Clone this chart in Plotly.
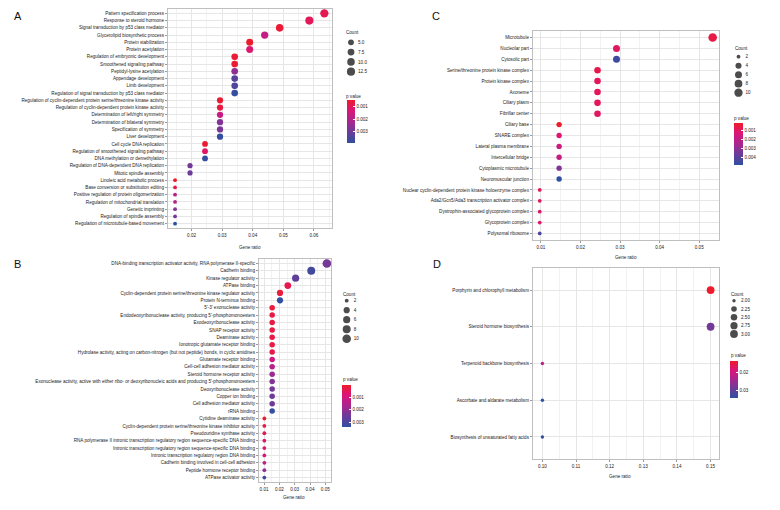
import math
import plotly.graph_objects as go

W, H = 780, 510
FONT = "Liberation Sans Narrow, Arial Narrow, Liberation Sans, Arial, sans-serif"
TXT = "#222222"
FS = 4.6

# ---------------- data ----------------
A_terms = [
    "Pattern specification process", "Response to steroid hormone",
    "Signal transduction by p53 class mediator", "Glycerolipid biosynthetic process",
    "Protein stabilization", "Protein acetylation", "Regulation of embryonic development",
    "Smoothened signaling pathway", "Peptidyl-lysine acetylation", "Appendage development",
    "Limb development", "Regulation of signal transduction by p53 class mediator",
    "Regulation of cyclin-dependent protein serine/threonine kinase activity",
    "Regulation of cyclin-dependent protein kinase activity",
    "Determination of left/right symmetry", "Determination of bilateral symmetry",
    "Specification of symmetry", "Liver development", "Cell cycle DNA replication",
    "Regulation of smoothened signaling pathway", "DNA methylation or demethylation",
    "Regulation of DNA-dependent DNA replication", "Mitotic spindle assembly",
    "Linoleic acid metabolic process", "Base conversion or substitution editing",
    "Positive regulation of protein oligomerization", "Regulation of mitochondrial translation",
    "Genetic imprinting", "Regulation of spindle assembly",
    "Regulation of microtubule-based movement",
]
A_count = [13, 12, 10, 9, 8, 8, 7, 7, 7, 7, 7, 7, 6, 6, 6, 6, 6, 6, 5, 5, 5, 4, 4, 3, 3, 3, 3, 3, 3, 3]
A_ratio = [0.0634, 0.0585, 0.0488, 0.0439, 0.0390, 0.0390, 0.0341, 0.0341, 0.0341, 0.0341,
           0.0341, 0.0341, 0.0293, 0.0293, 0.0293, 0.0293, 0.0293, 0.0293, 0.0244, 0.0244,
           0.0244, 0.0195, 0.0195, 0.0146, 0.0146, 0.0146, 0.0146, 0.0146, 0.0146, 0.0146]
A_p = [0.0009, 0.0010, 0.0006, 0.0017, 0.0005, 0.0012, 0.0006, 0.0006, 0.0025, 0.0033,
       0.0034, 0.0038, 0.0006, 0.0007, 0.0016, 0.0027, 0.0028, 0.0038, 0.0006, 0.0011,
       0.0038, 0.0029, 0.0030, 0.00047, 0.0008, 0.0019, 0.0020, 0.0027, 0.0029, 0.0039]
A_size_breaks = [5.0, 7.5, 10.0, 12.5]
A_p_ticks = [0.001, 0.002, 0.003]

B_terms = [
    "DNA-binding transcription activator activity, RNA polymerase II-specific",
    "Cadherin binding", "Kinase regulator activity", "ATPase binding",
    "Cyclin-dependent protein serine/threonine kinase regulator activity",
    "Protein N-terminus binding", "5'-3' exonuclease activity",
    "Endodeoxyribonuclease activity, producing 5'-phosphomonoesters",
    "Exodeoxyribonuclease activity", "SNAP receptor activity", "Deaminase activity",
    "Ionotropic glutamate receptor binding",
    "Hydrolase activity, acting on carbon-nitrogen (but not peptide) bonds, in cyclic amidines",
    "Glutamate receptor binding", "Cell-cell adhesion mediator activity",
    "Steroid hormone receptor activity",
    "Exonuclease activity, active with either ribo- or deoxyribonucleic acids and producing 5'-phosphomonoesters",
    "Deoxyribonuclease activity", "Copper ion binding", "Cell adhesion mediator activity",
    "rRNA binding", "Cytidine deaminase activity",
    "Cyclin-dependent protein serine/threonine kinase inhibitor activity",
    "Pseudouridine synthase activity",
    "RNA polymerase II intronic transcription regulatory region sequence-specific DNA binding",
    "Intronic transcription regulatory region sequence-specific DNA binding",
    "Intronic transcription regulatory region DNA binding",
    "Cadherin binding involved in cell-cell adhesion", "Peptide hormone receptor binding",
    "ATPase activator activity",
]
B_count = [10, 8, 6, 5, 4, 4] + [3] * 15 + [2] * 9
B_ratio = [0.0510, 0.0408, 0.0306, 0.0255, 0.0204, 0.0204] + [0.0153] * 15 + [0.0102] * 9
B_p = [0.0024, 0.0031, 0.0027, 0.0004, 0.0002, 0.0034, 0.0002, 0.0003, 0.0003, 0.0003,
       0.0003, 0.0003, 0.0004, 0.0011, 0.0015, 0.0019, 0.0022, 0.0024, 0.0025, 0.0025,
       0.0033, 0.00002, 0.0003, 0.0005, 0.0007, 0.0008, 0.0009, 0.0013, 0.0020, 0.0031]
B_size_breaks = [2, 4, 6, 8, 10]
B_p_ticks = [0.001, 0.002, 0.003]

C_terms = [
    "Microtubule", "Nucleolar part", "Cytosolic part",
    "Serine/threonine protein kinase complex", "Protein kinase complex", "Axoneme",
    "Ciliary plasm", "Fibrillar center", "Ciliary base", "SNARE complex",
    "Lateral plasma membrane", "Intercellular bridge", "Cytoplasmic microtubule",
    "Neuromuscular junction", "Nuclear cyclin-dependent protein kinase holoenzyme complex",
    "Ada2/Gcn5/Ada3 transcription activator complex",
    "Dystrophin-associated glycoprotein complex", "Glycoprotein complex",
    "Polysomal ribosome",
]
C_count = [11, 6, 6, 5, 5, 5, 5, 5, 3, 3, 3, 3, 3, 3, 2, 2, 2, 2, 2]
C_ratio = [0.0534, 0.0291, 0.0291, 0.0243, 0.0243, 0.0243, 0.0243, 0.0243, 0.0146, 0.0146,
           0.0146, 0.0146, 0.0146, 0.0146, 0.0097, 0.0097, 0.0097, 0.0097, 0.0097]
C_p = [0.0006, 0.0010, 0.0045, 0.0007, 0.0009, 0.0009, 0.0009, 0.0010, 0.0002, 0.0012,
       0.0017, 0.0018, 0.0033, 0.0048, 0.0008, 0.0010, 0.0011, 0.0011, 0.0042]
C_size_breaks = [2, 4, 6, 8, 10]
C_p_ticks = [0.001, 0.002, 0.003, 0.004]

D_terms = [
    "Porphyrin and chlorophyll metabolism", "Steroid hormone biosynthesis",
    "Terpenoid backbone biosynthesis", "Ascorbate and aldarate metabolism",
    "Biosynthesis of unsaturated fatty acids",
]
D_count = [3, 3, 2, 2, 2]
D_ratio = [0.15, 0.15, 0.10, 0.10, 0.10]
D_p = [0.0136, 0.0285, 0.0220, 0.0345, 0.0343]
D_size_breaks = [2.00, 2.25, 2.50, 2.75, 3.00]
D_p_ticks = [0.02, 0.03]

# colour scale for -p (low = blue/high p, high = red/low p)
CS = [[0.0, "#2E50A2"], [0.25, "#6A3C99"], [0.5, "#A8268F"], [0.75, "#DA167A"], [1.0, "#EE1C2A"]]


def size_of(c, cmin, cmax, dmin, dmax):
    return dmin + (dmax - dmin) * math.sqrt((c - cmin) / (cmax - cmin))


def fx(x):
    return x / W


def fy(y):
    return 1 - y / H


panels = [
    dict(letter="A", terms=A_terms, count=A_count, ratio=A_ratio, p=A_p,
         breaks=A_size_breaks, blabel="{:.1f}", pticks=A_p_ticks, pfmt="{:.3f}",
         box=(168, 332, 9, 228), xr=[0.0123, 0.0659], dtick=0.01, tick0=0.0, xfmt=".2f",
         dmin=3.8, dmax=8.3,
         letter_pos=(18, 16.5), xtitle=(250, 247),
         count_title=(344, 33), count_dot_x=351, count_rows=(42.3, 71.7),
         cbar=(347, 100, 8, 43), ptitle=(344, 96)),
    dict(letter="B", terms=B_terms, count=B_count, ratio=B_ratio, p=B_p,
         breaks=B_size_breaks, blabel="{:d}", pticks=B_p_ticks, pfmt="{:.3f}",
         box=(259, 331, 259, 482), xr=[0.0067, 0.0537], dtick=0.01, tick0=0.0, xfmt=".2f",
         dmin=3.8, dmax=8.6,
         letter_pos=(17.5, 264), xtitle=(294, 497),
         count_title=(341, 294), count_dot_x=346.7, count_rows=(300.7, 338.7),
         cbar=(342, 385, 9, 42), ptitle=(341, 379)),
    dict(letter="C", terms=C_terms, count=C_count, ratio=C_ratio, p=C_p,
         breaks=C_size_breaks, blabel="{:d}", pticks=C_p_ticks, pfmt="{:.3f}",
         box=(533, 719, 31, 240), xr=[0.0080, 0.0550], dtick=0.01, tick0=0.0, xfmt=".2f",
         dmin=3.8, dmax=8.6,
         letter_pos=(435.5, 16), xtitle=(626, 257),
         count_title=(733, 49), count_dot_x=738.5, count_rows=(56.7, 92.7),
         cbar=(734, 122.7, 8.5, 42.3), ptitle=(732, 118)),
    dict(letter="D", terms=D_terms, count=D_count, ratio=D_ratio, p=D_p,
         breaks=D_size_breaks, blabel="{:.2f}", pticks=D_p_ticks, pfmt="{:.2f}",
         box=(533, 719, 268, 459), xr=[0.0972, 0.1525], dtick=0.01, tick0=0.0, xfmt=".2f",
         dmin=3.4, dmax=7.8,
         letter_pos=(436.5, 264), xtitle=(620, 476),
         count_title=(729, 294), count_dot_x=734, count_rows=(300.7, 334),
         cbar=(730, 361, 8, 37), ptitle=(728.5, 355.5)),
]

fig = go.Figure()
layout = dict(
    width=W, height=H, margin=dict(l=0, r=0, t=0, b=0, autoexpand=False),
    paper_bgcolor="white", plot_bgcolor="white", showlegend=False,
    font=dict(family=FONT, size=FS, color=TXT),
)
annotations = []
ax = 0
for i, P in enumerate(panels):
    ax += 1
    xa, ya = f"x{ax}", f"y{ax}"
    x0, x1, y0, y1 = P["box"]
    n = len(P["terms"])
    cmin, cmax = min(P["count"]), max(P["count"])
    sizes = [size_of(c, cmin, cmax, P["dmin"], P["dmax"]) for c in P["count"]]
    ca = "coloraxis" if i == 0 else f"coloraxis{i + 1}"
    fig.add_trace(go.Scatter(
        x=P["ratio"], y=P["terms"], mode="markers",
        marker=dict(size=sizes, color=[-v for v in P["p"]], coloraxis=ca,
                    line=dict(width=0), opacity=1),
        xaxis=xa, yaxis=ya, hoverinfo="x+y"))
    layout[f"xaxis{ax}"] = dict(
        domain=[fx(x0), fx(x1)], anchor=ya, range=P["xr"], dtick=P["dtick"], tick0=P["tick0"],
        tickformat=P["xfmt"], showgrid=True, gridcolor="#E6E6E6", gridwidth=0.8,
        minor=dict(dtick=P["dtick"] / 2, showgrid=True, gridcolor="#F2F2F2", gridwidth=0.5),
        showline=True, mirror=True, linecolor="#BFBFBF", linewidth=1.2, automargin=False,
        ticks="outside", ticklen=2, tickcolor="#999999", tickwidth=0.6,
        ticklabeloverflow="allow",
        tickfont=dict(size=FS, family=FONT, color=TXT), zeroline=False)
    layout[f"yaxis{ax}"] = dict(
        domain=[fy(y1), fy(y0)], anchor=xa, type="category", automargin=False,
        categoryorder="array", categoryarray=P["terms"], range=[n - 0.4, -0.6],
        showgrid=True, gridcolor="#E6E6E6", gridwidth=0.8,
        showline=True, mirror=True, linecolor="#BFBFBF", linewidth=1.2,
        ticks="outside", ticklen=2, tickcolor="#999999", tickwidth=0.6,
        ticklabeloverflow="allow",
        tickfont=dict(size=FS, family=FONT, color=TXT), zeroline=False)
    pmin, pmax = min(P["p"]), max(P["p"])
    cbx, cby, cbt, cbl = P["cbar"]
    layout[ca] = dict(
        cmin=-pmax, cmax=-pmin, colorscale=CS,
        colorbar=dict(x=fx(cbx), xanchor="left", y=fy(cby), yanchor="top",
                      len=cbl, lenmode="pixels", thickness=cbt, thicknessmode="pixels",
                      xpad=0, ypad=0, outlinewidth=0,
                      tickvals=[-t for t in P["pticks"]],
                      ticktext=[P["pfmt"].format(t) for t in P["pticks"]],
                      ticks="inside", ticklen=2, tickcolor="white", tickwidth=0.6,
                      tickfont=dict(size=FS, family=FONT, color=TXT),
                      title=dict(text="")))
    # size legend on its own small axes
    ax += 1
    lx, ly = f"x{ax}", f"y{ax}"
    labels = [P["blabel"].format(b) for b in P["breaks"]]
    m = len(labels)
    r0, r1 = P["count_rows"]
    step = (r1 - r0) / (m - 1)
    top, bot = r0 - step / 2, r1 + step / 2
    cx = P["count_dot_x"]
    fig.add_trace(go.Scatter(
        x=[0.5] * m, y=labels, mode="markers",
        marker=dict(size=[size_of(b, cmin, cmax, P["dmin"], P["dmax"]) for b in P["breaks"]],
                    color="black", line=dict(width=0)),
        xaxis=lx, yaxis=ly, hoverinfo="skip"))
    layout[f"xaxis{ax}"] = dict(domain=[fx(cx - 5), fx(cx + 5)], anchor=ly, range=[0, 1],
                                visible=False, automargin=False)
    layout[f"yaxis{ax}"] = dict(domain=[fy(bot), fy(top)], anchor=lx, type="category",
                                categoryorder="array", categoryarray=labels, automargin=False,
                                range=[m - 0.5, -0.5], side="right", showgrid=False,
                                showline=False, zeroline=False, ticks="", ticklabelstandoff=1,
                                ticklabeloverflow="allow",
                                tickfont=dict(size=FS, family=FONT, color=TXT))
    # annotations
    lxp, lyp = P["letter_pos"]
    annotations.append(dict(text=P["letter"], x=fx(lxp), y=fy(lyp), xref="paper", yref="paper",
                            showarrow=False, xanchor="center", yanchor="middle",
                            font=dict(size=11, family=FONT, color="#111111")))
    tx, ty = P["xtitle"]
    annotations.append(dict(text="Gene ratio", x=fx(tx), y=fy(ty), xref="paper", yref="paper",
                            showarrow=False, xanchor="center", yanchor="middle",
                            font=dict(size=FS, family=FONT, color=TXT)))
    ctx, cty = P["count_title"]
    annotations.append(dict(text="Count", x=fx(ctx), y=fy(cty), xref="paper", yref="paper",
                            showarrow=False, xanchor="left", yanchor="middle",
                            font=dict(size=FS, family=FONT, color=TXT)))
    ptx, pty = P["ptitle"]
    annotations.append(dict(text="p value", x=fx(ptx), y=fy(pty), xref="paper", yref="paper",
                            showarrow=False, xanchor="left", yanchor="middle",
                            font=dict(size=FS, family=FONT, color=TXT)))

layout["annotations"] = annotations
fig.update_layout(**layout)
fig.write_html("out.html", config={"displayModeBar": False},
               post_script="document.body.style.margin='0';document.body.style.overflow='hidden';")
